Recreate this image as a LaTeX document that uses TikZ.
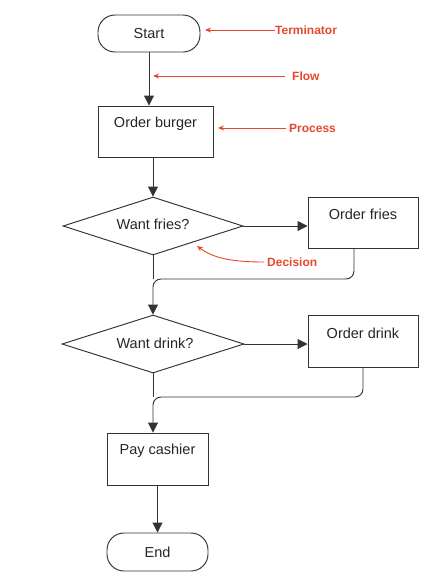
\documentclass[tikz,border=0pt]{standalone}
\usepackage{fontspec}
\setmainfont{Liberation Sans}
\usetikzlibrary{arrows.meta,shapes.geometric}
\definecolor{annred}{HTML}{E8472F}
\tikzset{
  base/.style={draw=black!80, line width=0.95pt, inner sep=0pt, fill=white},
  term/.style={base, rectangle, rounded corners=17pt},
  proc/.style={base, rectangle},
  dec/.style={base, diamond, aspect=3},
  txt/.style={font=\fontsize{14.5}{16}\selectfont, text=black!85, inner sep=0pt},
  flow/.style={line width=0.95pt, draw=black!80, -{Triangle[length=10pt,width=10pt]}},
  line/.style={line width=0.95pt, draw=black!80},
  ann/.style={font=\bfseries\fontsize{12}{14}\selectfont, text=annred, inner sep=0pt},
  annarrow/.style={draw=annred, line width=0.9pt, -{Stealth[length=6pt,width=5pt]}}
}
\begin{document}
\begin{tikzpicture}[x=1pt,y=-1pt]
\useasboundingbox (0,0) rectangle (446,576);
% shapes
\node[term, minimum width=102pt, minimum height=37pt] (start) at (149,33.5) {};
\node[txt] (startT) at (start.center) {Start};
\node[proc, minimum width=115pt, minimum height=51pt] (burger) at (155.5,131.5) {};
\node[txt] (burgerT) at (155.5,124) {Order burger};
\node[dec, minimum width=180pt, minimum height=58pt] (friesd) at (153,226) {};
\node[txt] (friesdT) at (153,224) {Want fries?};
\node[proc, minimum width=110pt, minimum height=51pt] (ofries) at (363,222.5) {};
\node[txt] (ofriesT) at (363,214) {Order fries};
\node[dec, minimum width=182pt, minimum height=58pt] (drinkd) at (153,344) {};
\node[txt] (drinkdT) at (155,343) {Want drink?};
\node[proc, minimum width=110pt, minimum height=52pt] (odrink) at (363,341) {};
\node[txt] (odrinkT) at (363,333) {Order drink};
\node[proc, minimum width=101pt, minimum height=52pt] (pay) at (157.5,459) {};
\node[txt] (payT) at (157.5,451) {Pay cashier};
\node[term, minimum width=101pt, minimum height=38pt] (end) at (157.5,552) {};
\node[txt] (endT) at (end.center) {End};
% connectors
\draw[flow] (start.south) -- (start.south |- burger.north);
\draw[flow] (friesd.north |- burger.south) -- (friesd.north);
\draw[flow] (friesd.east) -- (friesd.east -| ofries.west);
\coordinate (m1) at (153,279);
\draw[line] (friesd.south) -- (m1);
\draw[flow, rounded corners=8pt] ([xshift=-9pt]ofries.south) |- (m1) -- (drinkd.north);
\draw[flow] (drinkd.east) -- (drinkd.east -| odrink.west);
\coordinate (m2) at (153,397);
\draw[line] (drinkd.south) -- (m2);
\draw[flow, rounded corners=8pt] (odrink.south) |- (m2) -- (m2 |- pay.north);
\draw[flow] (pay.south) -- (end.north);
% annotations
\node[ann, anchor=west] (aTerm) at (275,30) {Terminator};
\coordinate (aTermP) at (205,30);
\draw[annarrow] (aTerm.west) -- (aTermP);
\node[ann, anchor=west] (aFlow) at (292,76) {Flow};
\coordinate (aFlowS) at (285,76);
\coordinate (aFlowP) at (153,76);
\draw[annarrow] (aFlowS) -- (aFlowP);
\node[ann, anchor=west] (aProc) at (289,128) {Process};
\coordinate (aProcP) at (218,128);
\draw[annarrow] ([xshift=-3pt]aProc.west) -- (aProcP);
\node[ann, anchor=west] (aDec) at (267,262) {Decision};
\coordinate (aDecP) at (197,246);
\draw[annarrow] ([xshift=-3pt]aDec.west) .. controls (228,262) and (212,257) .. (aDecP);
\end{tikzpicture}
\end{document}
